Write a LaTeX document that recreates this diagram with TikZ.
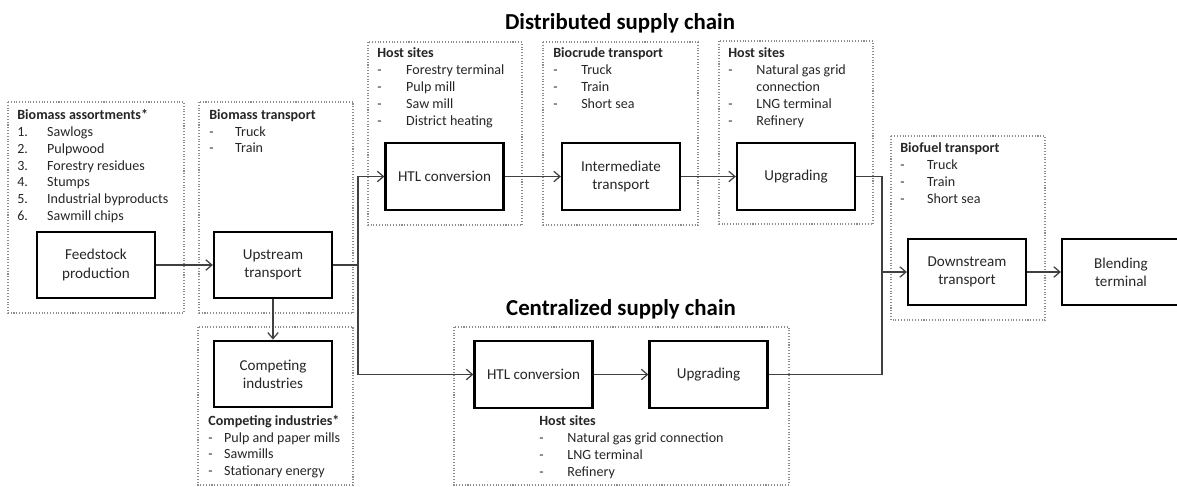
\documentclass[tikz,border=0pt]{standalone}
\usepackage{fontspec}
\setmainfont{Carlito}
\usetikzlibrary{arrows.meta}

\newcommand{\itm}[2][16pt]{\makebox[#1][l]{#2}}

\tikzset{
  block/.style={draw=black, line width=1.3pt, minimum width=2.36cm, minimum height=1.33cm,
    align=center, inner sep=0pt, text=black!85, font=\fontsize{8.6}{10.3}\selectfont},
  group/.style={draw=black!45, densely dotted, line width=0.6pt},
  % anchored on the baseline of the last line
  list/.style={anchor=base west, align=left, inner sep=0pt, text=black!85,
    font=\fontsize{8}{9.6}\selectfont},
  chaintitle/.style={font=\fontsize{13}{15}\selectfont\bfseries},
  flow/.style={draw=black!75, line width=0.7pt, -{Straight Barb[length=3.5pt,width=6pt]}},
  link/.style={draw=black!75, line width=0.7pt},
}

\begin{document}
\begin{tikzpicture}[x=0.02cm, y=-0.02cm]
\useasboundingbox (0,0) rectangle (1177,487);

% Gruppi
\draw [group] (8,102) rectangle (184,313);
\draw [group] (199,102) rectangle (353,313);
\draw [group] (198,327) rectangle (353,485);
\draw [group] (368,42) rectangle (522,225);
\draw [group] (543,42) rectangle (698,225);
\draw [group] (719,41) rectangle (873,224);
\draw [group] (891,136) rectangle (1045,320);
\draw [group] (454,327) rectangle (789,485);

% Titoli
\node [chaintitle] (distr) at (620,23) {Distributed supply chain};
\node [chaintitle] (centr) at (621,309) {Centralized supply chain};

% Blocchi
\node [block] (feed) at (96,265) {Feedstock\\production};
\node [block] (up) at (273,265) {Upstream\\transport};
\node [block] (comp) at (273,374) {Competing\\industries};
\node [block] (htlD) at (444.5,176.5) {HTL conversion};
\node [block] (inter) at (621,176.5) {Intermediate\\transport};
\node [block] (upgD) at (796,176.5) {Upgrading};
\node [block] (htlC) at (533.5,374.5) {HTL conversion};
\node [block] (upgC) at (708.5,374.5) {Upgrading};
\node [block] (down) at (967,272) {Downstream\\transport};
\node [block] (blend) at (1121,272) {Blending\\terminal};

% Liste
\node [list] (asmlist) at (17,220.6) {\textbf{Biomass assortments*}\\
  \itm[17pt]{1.}Sawlogs\\ \itm[17pt]{2.}Pulpwood\\ \itm[17pt]{3.}Forestry residues\\
  \itm[17pt]{4.}Stumps\\ \itm[17pt]{5.}Industrial byproducts\\ \itm[17pt]{6.}Sawmill chips};
\node [list] (btrlist) at (209,152.9) {\textbf{Biomass transport}\\
  \itm[14.7pt]{-}Truck\\ \itm[14.7pt]{-}Train};
\node [list] (cmplist) at (208,475.8) {\textbf{Competing industries*}\\
  \itm[9pt]{-}Pulp and paper mills\\ \itm[9pt]{-}Sawmills\\ \itm[9pt]{-}Stationary energy};
\node [list] (hs1list) at (377,125) {\textbf{Host sites}\\
  \itm[16.4pt]{-}Forestry terminal\\ \itm[16.4pt]{-}Pulp mill\\ \itm[16.4pt]{-}Saw mill\\
  \itm[16.4pt]{-}District heating};
\node [list] (bctlist) at (553,108) {\textbf{Biocrude transport}\\
  \itm[15.9pt]{-}Truck\\ \itm[15.9pt]{-}Train\\ \itm[15.9pt]{-}Short sea};
\node [list] (hs3list) at (728,125) {\textbf{Host sites}\\
  \itm{-}Natural gas grid\\ \itm{}connection\\ \itm{-}LNG terminal\\ \itm{-}Refinery};
\node [list] (bftlist) at (900,203.5) {\textbf{Biofuel transport}\\
  \itm[15.3pt]{-}Truck\\ \itm[15.3pt]{-}Train\\ \itm[15.3pt]{-}Short sea};
\node [list] (cenlist) at (539,476.5) {\textbf{Host sites}\\
  \itm{-}Natural gas grid connection\\ \itm{-}LNG terminal\\ \itm{-}Refinery};

% Collegamenti
\coordinate (split) at (358,265);
\coordinate (merge) at (882,272);
\draw [flow] (feed) -- (up);
\draw [link] (up.east) -- (split);
\draw [flow] (split) |- (htlD.west);
\draw [flow] (split) |- (htlC.west);
\draw [flow] (up) -- (comp);
\draw [flow] (htlD) -- (inter);
\draw [flow] (inter) -- (upgD);
\draw [flow] (htlC) -- (upgC);
\draw [link] (upgD.east) -| (merge);
\draw [link] (upgC.east) -| (merge);
\draw [flow] (merge) -- (down.west);
\draw [flow] (down) -- (blend);

\end{tikzpicture}
\end{document}
